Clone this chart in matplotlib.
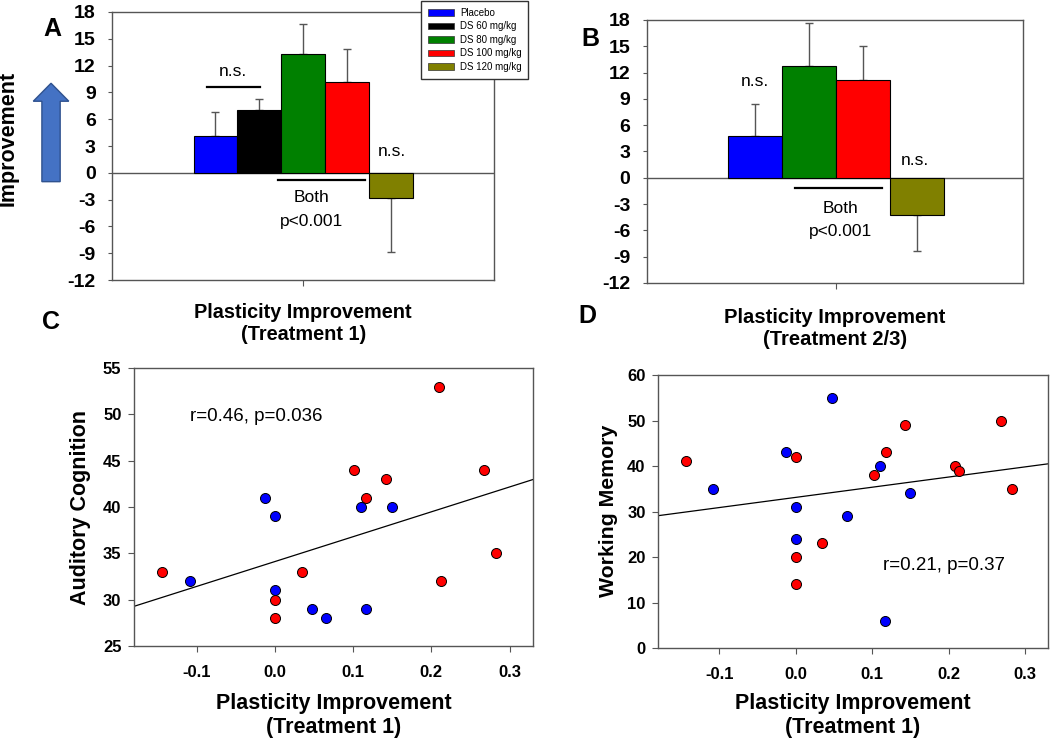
import numpy as np
import matplotlib
matplotlib.use('Agg')
import matplotlib.pyplot as plt
from matplotlib.patches import FancyArrow, Patch

# Arial-like font
plt.rcParams['font.family'] = ['Liberation Sans', 'DejaVu Sans']
plt.rcParams['axes.unicode_minus'] = False

# ---- panel A / B : group means and one-sided error ----
groups_a = ['Placebo', 'DS 60 mg/kg', 'DS 80 mg/kg', 'DS 100 mg/kg', 'DS 120 mg/kg']
colors_a = ['#0000ff', '#000000', '#008000', '#ff0000', '#808000']
mean_a = [4.1, 7.0, 13.3, 10.2, -2.8]
err_a = [2.7, 1.3, 3.4, 3.7, 6.1]

groups_b = ['Placebo', 'DS 80 mg/kg', 'DS 100 mg/kg', 'DS 120 mg/kg']
colors_b = ['#0000ff', '#008000', '#ff0000', '#808000']
mean_b = [4.8, 12.7, 11.1, -4.2]
err_b = [3.6, 4.9, 3.9, 4.1]

# ---- panel C / D : scatter (red / blue subjects) ----
x_red_c = [-0.144, 0.0, 0.0, 0.035, 0.101, 0.117, 0.142, 0.210, 0.213, 0.268, 0.283]
y_red_c = [33, 30, 28, 33, 44, 41, 43, 53, 32, 44, 35]
x_blue_c = [-0.109, -0.012, 0.0, 0.0, 0.047, 0.066, 0.110, 0.117, 0.150]
y_blue_c = [32, 41, 39, 31, 29, 28, 40, 29, 40]

x_red_d = [-0.143, 0.0, 0.0, 0.0, 0.035, 0.102, 0.118, 0.143, 0.209, 0.214, 0.268, 0.283]
y_red_d = [41, 42, 20, 14, 23, 38, 43, 49, 40, 39, 50, 35]
x_blue_d = [-0.108, -0.012, 0.0, 0.0, 0.047, 0.067, 0.110, 0.117, 0.150]
y_blue_d = [35, 43, 31, 24, 55, 29, 40, 6, 34]

GRAY = '#555555'


def style_axes(ax):
    for sp in ax.spines.values():
        sp.set_color(GRAY)
        sp.set_linewidth(1)


def bar_panel(ax, xpos, means, errs, colors, xlim):
    style_axes(ax)
    ax.axhline(0, color=GRAY, lw=1, zorder=1)
    for x, m, e, c in zip(xpos, means, errs, colors):
        ax.bar(x, m, width=1.0, color=c, edgecolor='k', linewidth=0.8, zorder=2)
        yerr = [[0], [e]] if m > 0 else [[e], [0]]
        ax.errorbar(x, m, yerr=yerr, fmt='none', ecolor=GRAY, elinewidth=1,
                    capsize=3, capthick=1, zorder=1)
    ax.set_xlim(xlim)
    ax.set_ylim(-12, 18)
    ax.set_yticks(np.arange(-12, 19, 3))
    ax.set_xticks([0])
    ax.set_xticklabels([''])
    ax.tick_params(axis='y', length=3, pad=9, labelsize=14, color=GRAY)
    ax.tick_params(axis='x', length=4, color=GRAY)
    plt.setp(ax.get_yticklabels(), fontweight='bold')


def scatter_panel(ax, xr, yr, xb, yb, ylim, ystep):
    style_axes(ax)
    xlim = (-0.18, 0.33)
    ax.scatter(xr, yr, s=52, c='#ff0000', edgecolors='k', linewidths=0.7, zorder=3)
    ax.scatter(xb, yb, s=52, c='#0000ff', edgecolors='k', linewidths=0.7, zorder=3)
    # linear fit over all subjects
    p = np.polyfit(np.r_[xr, xb], np.r_[yr, yb], 1)
    xs = np.array(xlim)
    ax.plot(xs, np.polyval(p, xs), color='k', lw=0.9, zorder=2)
    ax.set_xlim(xlim)
    ax.set_ylim(ylim)
    ax.set_yticks(np.arange(ylim[0], ylim[1] + 1, ystep))
    ax.set_xticks([-0.1, 0.0, 0.1, 0.2, 0.3])
    ax.set_xticklabels(['-0.1', '0.0', '0.1', '0.2', '0.3'])
    ax.tick_params(axis='y', length=4, pad=5, labelsize=12, color=GRAY)
    ax.tick_params(axis='x', length=4, pad=10, labelsize=12, color=GRAY)
    plt.setp(ax.get_yticklabels(), fontweight='bold')
    plt.setp(ax.get_xticklabels(), fontweight='bold')


fig = plt.figure(figsize=(10.5, 7.4), dpi=100)

# ---------------- A ----------------
axA = fig.add_axes([0.1071, 0.6216, 0.3633, 0.3622])
bar_panel(axA, np.arange(5) - 2, mean_a, err_a, colors_a, (-4.35, 4.35))
axA.plot([-2.2, -0.99], [9.6, 9.6], color='k', lw=1.6)
axA.text(-1.6, 11.3, 'n.s.', ha='center', va='center', fontsize=12.5)
axA.plot([-0.57, 1.42], [-0.82, -0.82], color='k', lw=1.6)
axA.text(0.2, -2.8, 'Both', ha='center', va='center', fontsize=12.5)
axA.text(0.2, -5.43, 'p<0.001', ha='center', va='center', fontsize=12.5)
axA.text(2.02, 2.43, 'n.s.', ha='center', va='center', fontsize=12.5)
axA.set_xlabel('Plasticity Improvement\n(Treatment 1)', fontsize=14.3, fontweight='bold', va='top')
axA.xaxis.set_label_coords(0.5, -0.085)
axA.set_ylabel('Improvement', fontsize=15.5, fontweight='bold')
axA.yaxis.set_label_coords(-0.245, 0.53)

# ---------------- B ----------------
axB = fig.add_axes([0.6162, 0.6176, 0.3581, 0.3554])
bar_panel(axB, np.arange(4) - 1.5, mean_b, err_b, colors_b, (-3.49, 3.46))
axB.text(-1.5, 11.0, 'n.s.', ha='center', va='center', fontsize=12.5)
axB.plot([-0.75, 0.86], [-1.17, -1.17], color='k', lw=1.6)
axB.text(0.09, -3.52, 'Both', ha='center', va='center', fontsize=12.5)
axB.text(0.09, -6.14, 'p<0.001', ha='center', va='center', fontsize=12.5)
axB.text(1.46, 1.97, 'n.s.', ha='center', va='center', fontsize=12.5)
axB.set_xlabel('Plasticity Improvement\n(Treatment 2/3)', fontsize=14.6, fontweight='bold', va='top')
axB.xaxis.set_label_coords(0.5, -0.095)

# legend for the dose groups
handles = [Patch(facecolor=c, edgecolor='#333333', linewidth=0.5, label=g)
           for g, c in zip(groups_a, colors_a)]
leg = fig.legend(handles=handles, loc='upper left', bbox_to_anchor=(0.401, 0.9986),
                 bbox_transform=fig.transFigure, fontsize=7, frameon=True,
                 fancybox=False, edgecolor='#333333', framealpha=1,
                 handlelength=2.7, handleheight=0.65, labelspacing=0.36,
                 borderpad=0.7, handletextpad=0.6, borderaxespad=0)
leg.get_frame().set_linewidth(1)

# blue "improvement" arrow
arrow = FancyArrow(0.0486, 0.7545, 0, 0.133, width=0.0174, head_width=0.0338,
                   head_length=0.0243, length_includes_head=True,
                   transform=fig.transFigure, facecolor='#4472c4',
                   edgecolor='#2f528f', linewidth=1)
fig.add_artist(arrow)

# ---------------- C ----------------
axC = fig.add_axes([0.1276, 0.1270, 0.3800, 0.3757])
scatter_panel(axC, x_red_c, y_red_c, x_blue_c, y_blue_c, (25, 55), 5)
axC.text(-0.109, 49.8, 'r=0.46, p=0.036', ha='left', va='center', fontsize=13.5)
axC.set_xlabel('Plasticity Improvement\n(Treatment 1)', fontsize=15.5, fontweight='bold', va='top')
axC.xaxis.set_label_coords(0.5, -0.17)
axC.set_ylabel('Auditory Cognition', fontsize=15.5, fontweight='bold')
axC.yaxis.set_label_coords(-0.108, 0.497)

# ---------------- D ----------------
axD = fig.add_axes([0.6267, 0.1243, 0.3714, 0.3689])
scatter_panel(axD, x_red_d, y_red_d, x_blue_d, y_blue_d, (0, 60), 10)
axD.text(0.114, 18.2, 'r=0.21, p=0.37', ha='left', va='center', fontsize=13.5)
axD.set_xlabel('Plasticity Improvement\n(Treatment 1)', fontsize=15.5, fontweight='bold', va='top')
axD.xaxis.set_label_coords(0.5, -0.165)
axD.set_ylabel('Working Memory', fontsize=15.3, fontweight='bold')
axD.yaxis.set_label_coords(-0.103, 0.503)

# panel letters
for lbl, x, y in [('A', 52, 29), ('B', 590, 39), ('C', 51, 322), ('D', 587, 316)]:
    fig.text(x / 1050, 1 - y / 740, lbl, ha='center', va='center',
             fontsize=18, fontweight='bold')

fig.savefig('out.png', dpi=100)
plt.close(fig)
